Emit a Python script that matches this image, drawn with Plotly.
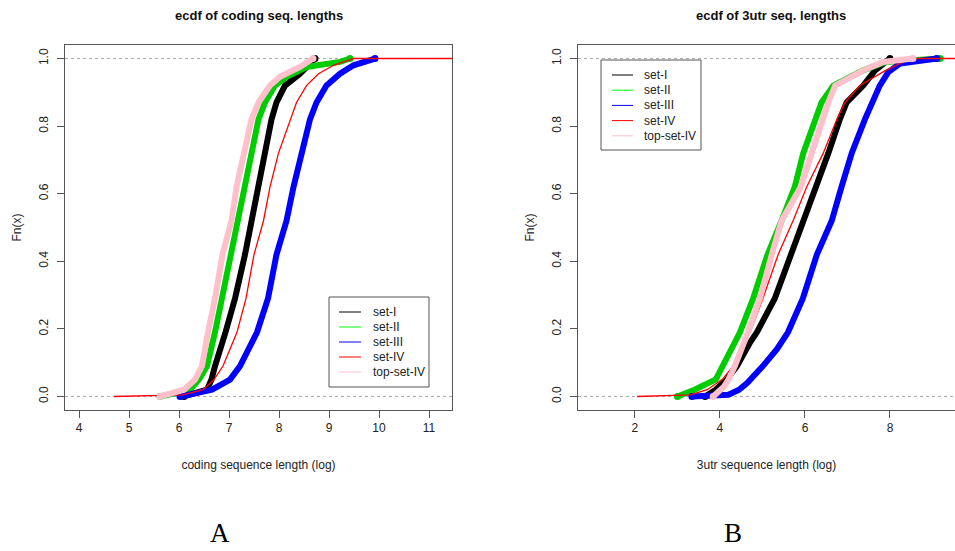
import plotly.graph_objects as go

# ---------------- data ----------------
SERIES = ["set-I", "set-II", "set-III", "set-IV", "top-set-IV"]
COLORS = ["#000000", "#00CD00", "#0000FF", "#FF0000", "#FFC0CB"]
LEG_COLORS = ["#000000", "#00FF00", "#0000FF", "#FF0000", "#FFC0CB"]

# panel A: ecdf of coding sequence length (log); x values at given Fn(x)
cod_I_x   = [6.10, 6.56, 6.65, 6.72, 6.93, 7.12, 7.32, 7.45, 7.59, 7.72, 7.85, 7.95, 8.12, 8.42, 8.72]
cod_I_F   = [0.0, 0.02, 0.05, 0.09, 0.19, 0.29, 0.42, 0.52, 0.62, 0.72, 0.82, 0.87, 0.92, 0.955, 1.0]
cod_II_x  = [5.62, 6.22, 6.40, 6.56, 6.72, 6.86, 7.03, 7.20, 7.32, 7.45, 7.59, 7.72, 7.92, 8.15, 8.55, 9.22, 9.42]
cod_II_F  = [0.0, 0.02, 0.05, 0.09, 0.19, 0.29, 0.42, 0.52, 0.62, 0.72, 0.82, 0.87, 0.92, 0.946, 0.975, 0.99, 1.0]
cod_III_x = [6.02, 6.66, 7.02, 7.22, 7.56, 7.78, 7.95, 8.15, 8.29, 8.45, 8.62, 8.75, 8.95, 9.22, 9.49, 9.92]
cod_III_F = [0.0, 0.02, 0.05, 0.09, 0.19, 0.29, 0.42, 0.52, 0.62, 0.72, 0.82, 0.87, 0.92, 0.955, 0.98, 1.0]
cod_IV_x  = [4.70, 6.08, 6.48, 6.70, 6.88, 7.16, 7.34, 7.50, 7.69, 7.82, 7.99, 8.22, 8.35, 8.55, 8.79, 9.09, 9.49, 11.60]
cod_IV_F  = [0.0, 0.005, 0.02, 0.05, 0.09, 0.19, 0.29, 0.42, 0.52, 0.62, 0.72, 0.82, 0.87, 0.92, 0.955, 0.98, 1.0, 1.0]
cod_top_x = [5.62, 6.10, 6.32, 6.46, 6.58, 6.72, 6.87, 7.05, 7.15, 7.29, 7.45, 7.59, 7.82, 8.02, 8.42, 8.68]
cod_top_F = [0.0, 0.02, 0.05, 0.09, 0.19, 0.29, 0.42, 0.52, 0.62, 0.72, 0.82, 0.87, 0.92, 0.946, 0.975, 1.0]

# panel B: ecdf of 3utr sequence length (log)
utr_I_x   = [3.65, 3.90, 4.16, 4.40, 4.71, 4.87, 5.29, 5.68, 5.97, 6.27, 6.55, 6.82, 6.98, 7.37, 7.65, 7.90, 8.00]
utr_I_F   = [0.0, 0.02, 0.05, 0.09, 0.16, 0.19, 0.29, 0.42, 0.52, 0.62, 0.72, 0.82, 0.87, 0.92, 0.965, 0.99, 1.0]
utr_II_x  = [3.00, 3.40, 3.90, 4.07, 4.47, 4.78, 5.12, 5.45, 5.76, 5.96, 6.24, 6.39, 6.67, 7.37, 7.90, 9.18]
utr_II_F  = [0.0, 0.02, 0.05, 0.09, 0.19, 0.29, 0.42, 0.52, 0.62, 0.72, 0.82, 0.87, 0.92, 0.965, 0.99, 1.0]
utr_III_x = [3.34, 4.20, 4.45, 4.64, 5.01, 5.34, 5.60, 5.95, 6.28, 6.63, 6.86, 7.10, 7.41, 7.57, 7.76, 7.96, 8.24, 9.10]
utr_III_F = [0.0, 0.005, 0.02, 0.04, 0.09, 0.14, 0.19, 0.29, 0.42, 0.52, 0.62, 0.72, 0.82, 0.87, 0.92, 0.96, 0.985, 1.0]
utr_IV_x  = [2.05, 3.30, 3.70, 4.05, 4.31, 4.71, 5.01, 5.37, 5.72, 6.04, 6.43, 6.75, 6.94, 7.29, 7.90, 8.31, 8.60, 9.80]
utr_IV_F  = [0.0, 0.005, 0.02, 0.05, 0.09, 0.19, 0.29, 0.42, 0.52, 0.62, 0.72, 0.82, 0.87, 0.92, 0.965, 0.99, 1.0, 1.0]
utr_top_x = [3.84, 4.10, 4.20, 4.35, 4.66, 4.94, 5.22, 5.45, 5.90, 6.16, 6.39, 6.55, 6.71, 7.37, 7.84, 8.54]
utr_top_F = [0.0, 0.03, 0.05, 0.09, 0.19, 0.29, 0.42, 0.52, 0.62, 0.72, 0.82, 0.87, 0.92, 0.965, 0.99, 1.0]

Y_TICKS = [0.0, 0.2, 0.4, 0.6, 0.8, 1.0]
Y_TICKTEXT = ["0.0", "0.2", "0.4", "0.6", "0.8", "1.0"]
XA_TICKS = [4, 5, 6, 7, 8, 9, 10, 11]
XB_TICKS = [2, 4, 6, 8]

TITLE_A = "ecdf of coding seq. lengths"
TITLE_B = "ecdf of 3utr seq. lengths"
XLAB_A = "coding sequence length (log)"
XLAB_B = "3utr sequence length (log)"
YLAB = "Fn(x)"

# ---------------- figure ----------------
W, H = 955, 551
FONT = "Liberation Sans, Arial, sans-serif"
WIDTHS = [6, 6, 6, 1.3, 6]

def px(x):
    return x / W

def py(y):
    return 1 - y / H

fig = go.Figure()

panelA = [(cod_I_x, cod_I_F), (cod_II_x, cod_II_F), (cod_III_x, cod_III_F),
          (cod_IV_x, cod_IV_F), (cod_top_x, cod_top_F)]
panelB = [(utr_I_x, utr_I_F), (utr_II_x, utr_II_F), (utr_III_x, utr_III_F),
          (utr_IV_x, utr_IV_F), (utr_top_x, utr_top_F)]

for panel, xa, ya in [(panelA, "x", "y"), (panelB, "x2", "y2")]:
    for i, (xs, fs) in enumerate(panel):
        thick = WIDTHS[i] > 2
        fig.add_trace(go.Scatter(
            x=xs, y=fs, xaxis=xa, yaxis=ya, name=SERIES[i], showlegend=False,
            mode="lines",
            line=dict(color=COLORS[i], width=WIDTHS[i]),
            hoverinfo="skip",
        ))
        if thick:
            # end-point circles of the ecdf
            fig.add_trace(go.Scatter(
                x=[xs[0], xs[-1]], y=[fs[0], fs[-1]], xaxis=xa, yaxis=ya,
                showlegend=False, mode="markers",
                marker=dict(color=COLORS[i], size=7),
                hoverinfo="skip",
            ))

axis_common = dict(
    showgrid=False, zeroline=False, showline=True, linecolor="#555555", linewidth=1,
    ticks="outside", ticklen=7, tickcolor="#555555",
    tickfont=dict(family=FONT, size=12, color="#222222"),
    automargin=False,
)
TFONT = dict(family=FONT, size=12, color="#222222")

xA_dom = [px(65), px(452)]
xB_dom = [px(578), 1.0]
y_dom = [py(410), py(45)]

fig.update_layout(
    width=W, height=H,
    margin=dict(l=0, r=0, t=0, b=0),
    paper_bgcolor="white", plot_bgcolor="white",
    xaxis=dict(domain=xA_dom, range=[3.72, 11.46], tickvals=XA_TICKS, mirror=True,
               title=dict(text=XLAB_A, font=TFONT, standoff=26),
               anchor="y", **axis_common),
    yaxis=dict(domain=y_dom, range=[-0.04, 1.04], tickvals=Y_TICKS, ticktext=Y_TICKTEXT,
               tickangle=-90, mirror=True, anchor="x",
               title=dict(text=YLAB, font=TFONT, standoff=13),
               ticklabelstandoff=4,
               **axis_common),
    xaxis2=dict(domain=xB_dom, range=[0.66, 9.53], tickvals=XB_TICKS, mirror=True,
                title=dict(text=XLAB_B, font=TFONT, standoff=26),
                anchor="y2", **axis_common),
    yaxis2=dict(domain=y_dom, range=[-0.04, 1.04], tickvals=Y_TICKS, ticktext=Y_TICKTEXT,
                tickangle=-90, mirror=False, anchor="x2",
                title=dict(text=YLAB, font=TFONT, standoff=13),
                ticklabelstandoff=4,
                **axis_common),
)

shapes = []
for xr, yr in [("x domain", "y"), ("x2 domain", "y2")]:
    for lvl in (0.0, 1.0):
        shapes.append(dict(type="line", xref=xr, yref=yr, x0=0, x1=1, y0=lvl, y1=lvl,
                           line=dict(color="#aaaaaa", width=1, dash="3px,3px"), layer="below"))

annotations = []
# panel titles
annotations.append(dict(text=TITLE_A, x=(xA_dom[0] + xA_dom[1]) / 2, y=py(15), xref="paper", yref="paper",
                        xanchor="center", yanchor="middle",
                        showarrow=False, font=dict(family=FONT, size=13, color="#111111", weight="bold")))
annotations.append(dict(text=TITLE_B, x=px(771), y=py(15), xref="paper", yref="paper",
                        xanchor="center", yanchor="middle",
                        showarrow=False, font=dict(family=FONT, size=13, color="#111111", weight="bold")))

# legends
def add_legend(box, line_x, text_x, y0, step):
    shapes.append(dict(type="rect", xref="paper", yref="paper",
                       x0=px(box[0]), x1=px(box[1]), y0=py(box[3]), y1=py(box[2]),
                       line=dict(color="#555555", width=1), fillcolor="white"))
    for i, name in enumerate(SERIES):
        yy = y0 + i * step
        shapes.append(dict(type="line", xref="paper", yref="paper",
                           x0=px(line_x[0]), x1=px(line_x[1]), y0=py(yy), y1=py(yy),
                           line=dict(color=LEG_COLORS[i], width=1)))
        annotations.append(dict(text=name, x=px(text_x), y=py(yy), xref="paper", yref="paper",
                                xanchor="left", yanchor="middle", showarrow=False,
                                font=dict(family=FONT, size=12, color="#222222")))

add_legend((329, 429, 297, 387), (339, 361), 371, 312, 15)
add_legend((601, 701, 60, 150), (612, 633), 642, 75, 15.2)

# panel letters
for letter, xl in [("A", 220), ("B", 733)]:
    annotations.append(dict(text=letter, x=px(xl), y=py(533), xref="paper", yref="paper", showarrow=False,
                            xanchor="center", yanchor="middle",
                            font=dict(family="Liberation Serif, serif", size=27, color="#000000")))

fig.update_layout(shapes=shapes, annotations=annotations)

fig.write_html("out.html")
